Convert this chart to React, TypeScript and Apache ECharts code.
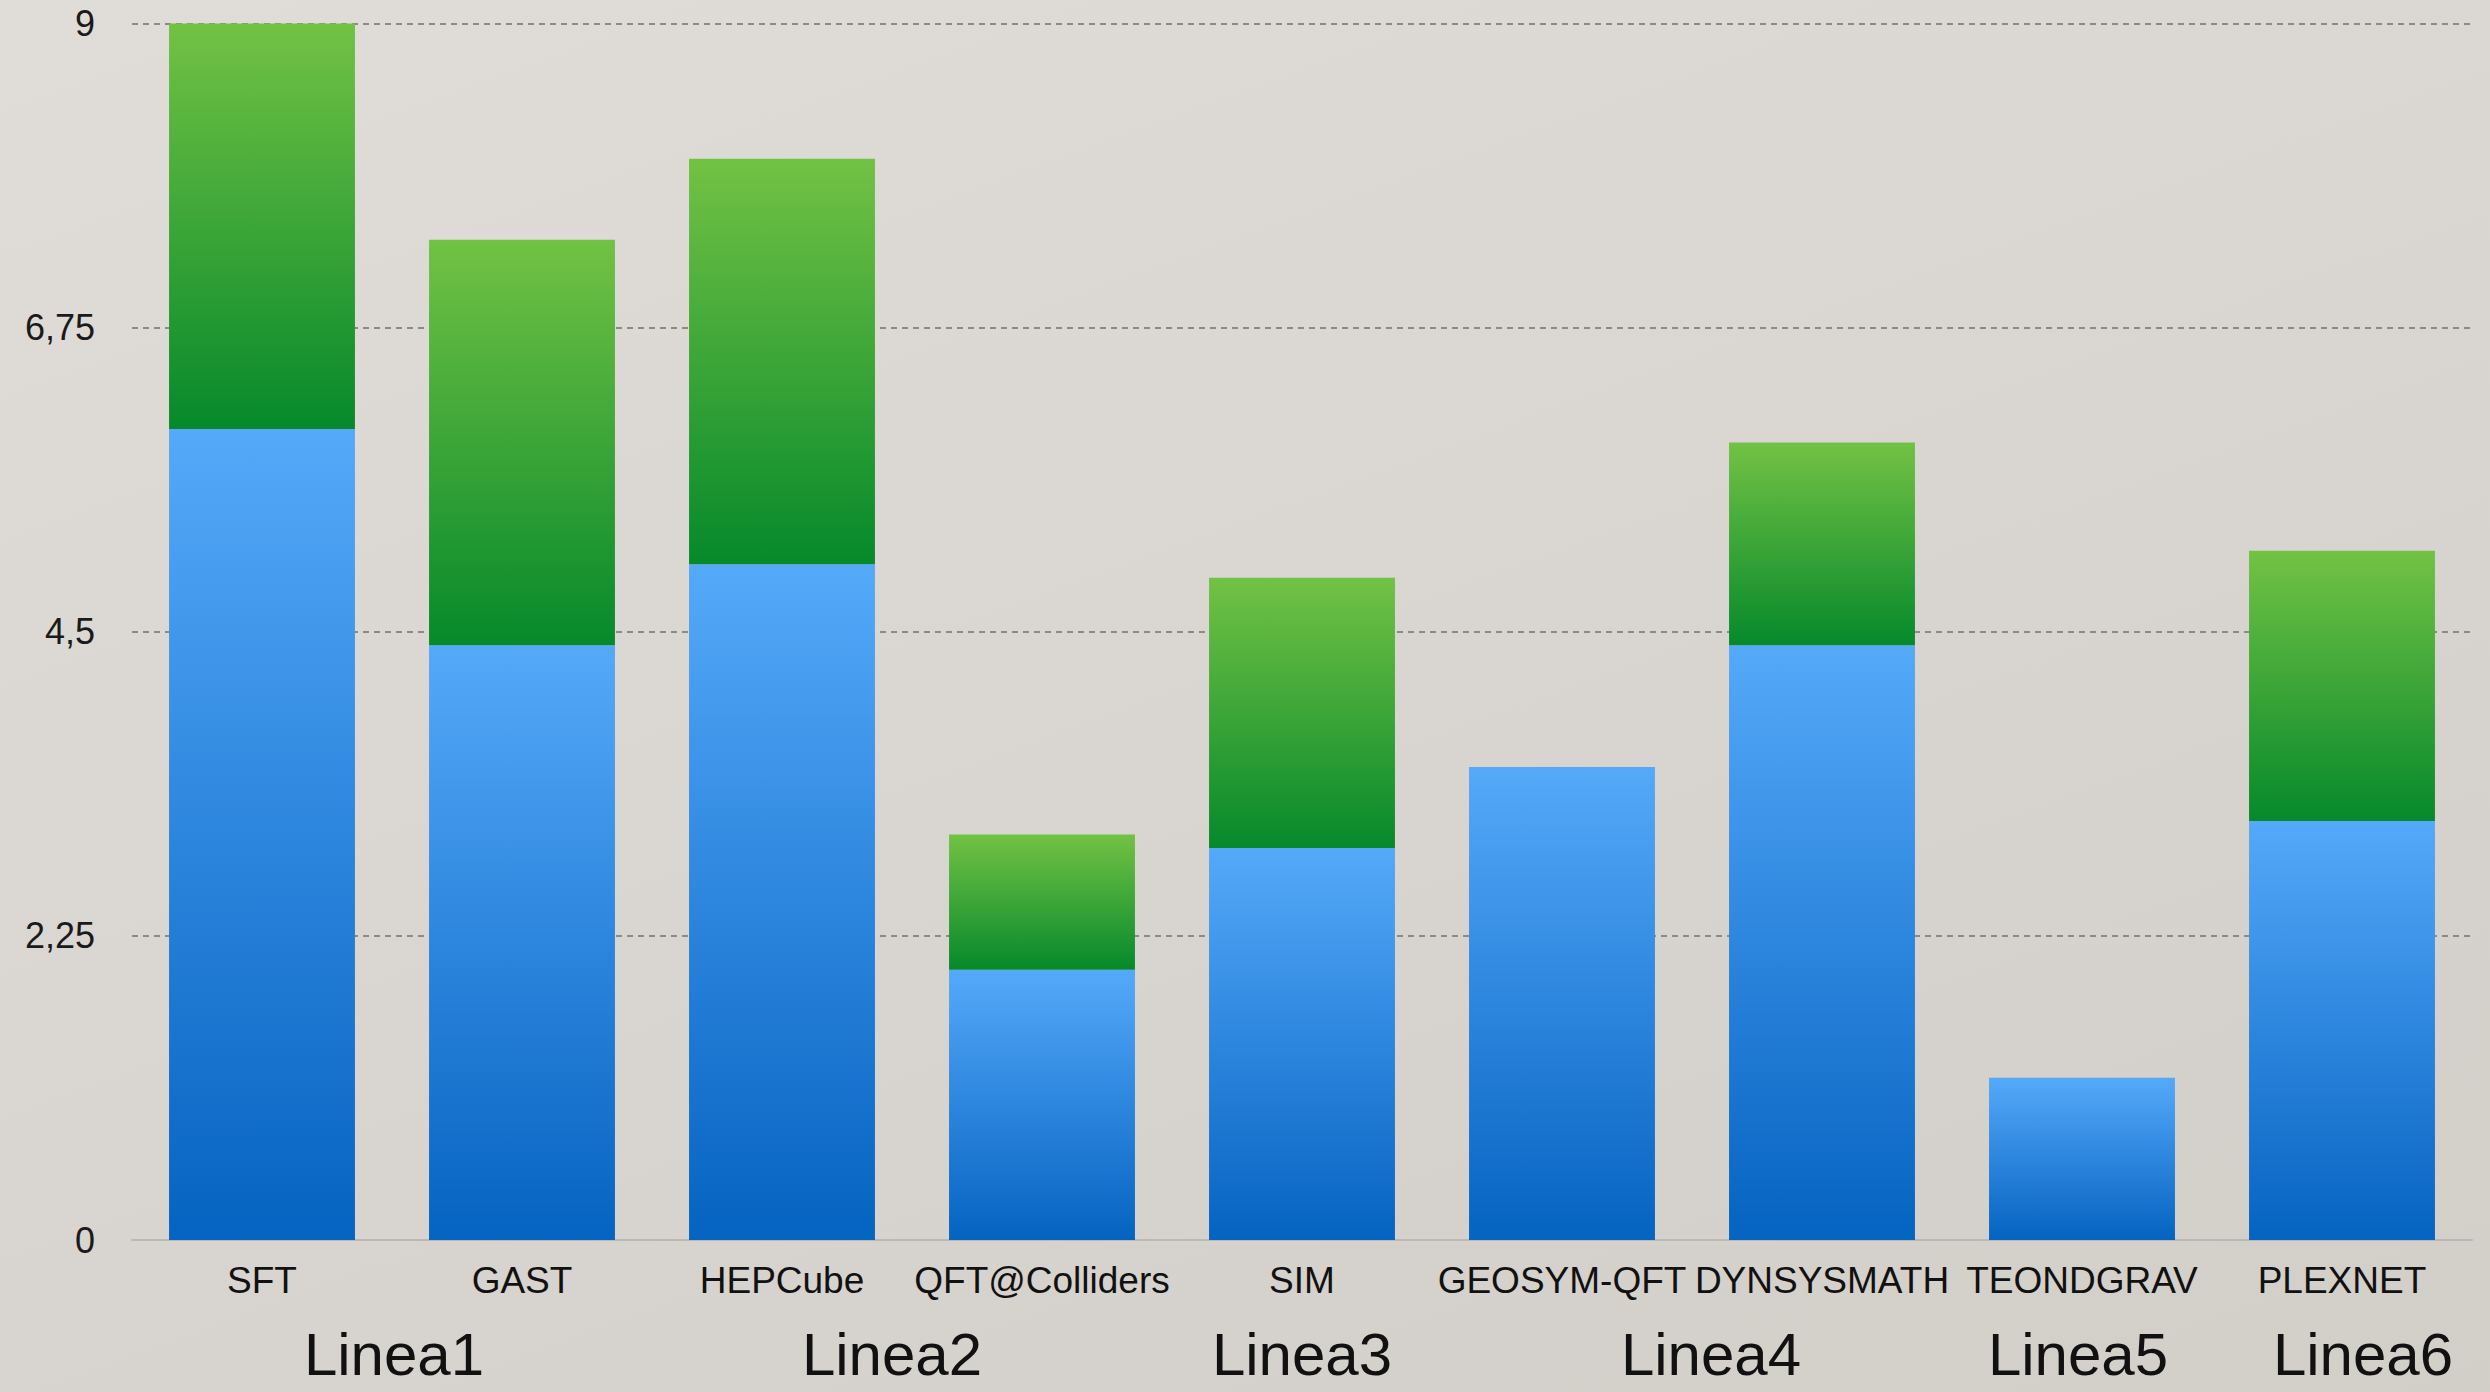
import React, { useEffect, useRef } from "react";
import * as echarts from "echarts";

// Research projects on the x axis, grouped under research lines
const categories = [
  "SFT",
  "GAST",
  "HEPCube",
  "QFT@Colliders",
  "SIM",
  "GEOSYM-QFT",
  "DYNSYSMATH",
  "TEONDGRAV",
  "PLEXNET",
];

// Lower (blue) and upper (green) stacked segments
const blueValues = [6, 4.4, 5, 2, 2.9, 3.5, 4.4, 1.2, 3.1];
const greenValues = [3, 3, 3, 1, 2, 0, 1.5, 0, 2];

// Research lines and the first/last project index each one covers
const lineNames = ["Linea1", "Linea2", "Linea3", "Linea4", "Linea5", "Linea6"];
const lineSpans = [
  [0, 1],
  [2, 3],
  [4, 4],
  [5, 6],
  [7, 7],
  [8, 8],
];

// Value axis ticks
const yMin = 0;
const yMax = 9;
const yStep = 2.25;

// Small horizontal nudges (px) for the research line captions
const captionNudge = [2, -20, 0, 19, -4, 21];

const FONT = "'Liberation Sans', Helvetica, Arial, sans-serif";

const vGrad = (top: string, bottom: string) =>
  new echarts.graphic.LinearGradient(0, 0, 0, 1, [
    { offset: 0, color: top },
    { offset: 1, color: bottom },
  ]);

export default function App() {
  const ref = useRef<HTMLDivElement>(null);

  useEffect(() => {
    if (!ref.current) return;
    const chart = echarts.init(ref.current, undefined, { renderer: "svg" });

    chart.setOption({
      animation: false,
      backgroundColor: "transparent",
      grid: { left: 132, right: 18, top: 23.5, bottom: 152, containLabel: false },
      xAxis: {
        type: "category",
        data: categories,
        axisTick: { show: false },
        axisLine: { lineStyle: { color: "#b8b8b8", width: 2 } },
        axisLabel: {
          interval: 0,
          margin: 22,
          fontSize: 37,
          color: "#111",
          fontFamily: FONT,
        },
      },
      yAxis: {
        type: "value",
        min: yMin,
        max: yMax,
        interval: yStep,
        axisLine: { show: false },
        axisTick: { show: false },
        axisLabel: {
          margin: 37,
          fontSize: 36,
          color: "#1a1a1a",
          fontFamily: FONT,
          formatter: (v: number) => String(v).replace(".", ","),
        },
        splitLine: {
          show: true,
          lineStyle: { color: "#8a8a8a", width: 2, type: [6, 5] },
        },
      },
      series: [
        {
          name: "blue",
          type: "bar",
          stack: "total",
          barWidth: "71.5%",
          data: blueValues,
          itemStyle: { color: vGrad("#55a9f9", "#0563c1") },
        },
        {
          name: "green",
          type: "bar",
          stack: "total",
          barWidth: "71.5%",
          data: greenValues.map((v) => (v === 0 ? "-" : v)),
          itemStyle: { color: vGrad("#72c244", "#06892b") },
        },
      ],
    });

    // Research line captions centred under the projects they cover
    const baseY = chart.convertToPixel({ yAxisIndex: 0 }, 0) as number;
    const texts = lineNames.map((name, i) => {
      const [a, b] = lineSpans[i];
      const xa = chart.convertToPixel({ xAxisIndex: 0 }, a) as number;
      const xb = chart.convertToPixel({ xAxisIndex: 0 }, b) as number;
      return {
        type: "text",
        x: (xa + xb) / 2 + captionNudge[i],
        y: baseY + 114,
        style: {
          text: name,
          fontSize: 60,
          lineHeight: 56,
          fontFamily: FONT,
          fill: "#111",
          align: "center",
          verticalAlign: "middle",
        },
      };
    });
    chart.setOption({ graphic: texts });

    return () => chart.dispose();
  }, []);

  return (
    <div
      style={{
        position: "absolute",
        left: 0,
        top: 0,
        width: 2490,
        height: 1392,
        background:
          "linear-gradient(160deg, #e0ddd9 0%, #d9d5d0 50%, #d2cec8 100%)",
      }}
    >
      <div ref={ref} style={{ width: 2490, height: 1392 }} />
    </div>
  );
}
